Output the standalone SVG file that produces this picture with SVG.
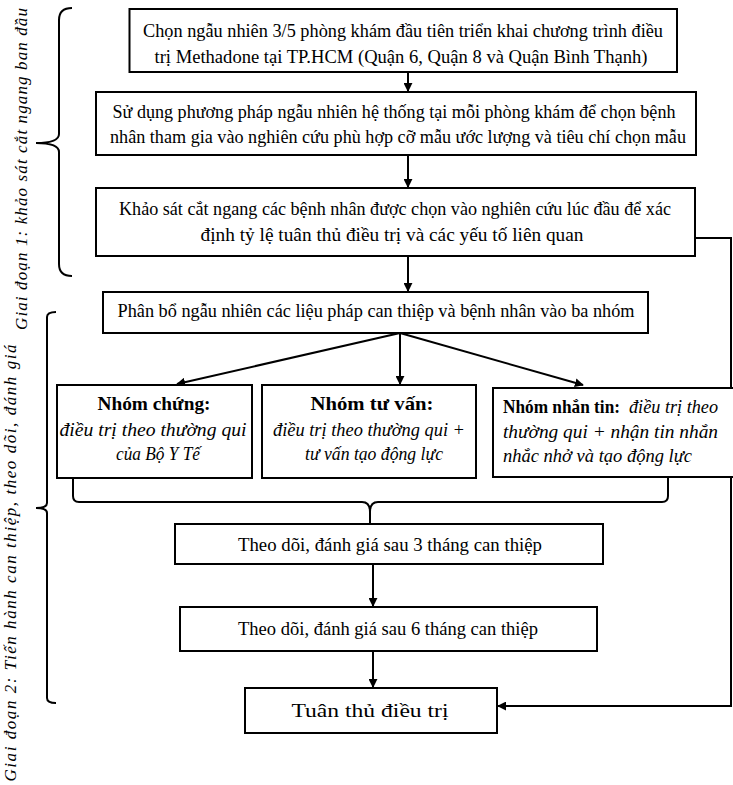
<svg xmlns="http://www.w3.org/2000/svg" width="733" height="785" viewBox="0 0 733 785">
<defs>
<marker id="ah" viewBox="0 0 10 10" refX="9" refY="5" markerWidth="4.5" markerHeight="4.5" orient="auto" markerUnits="strokeWidth">
<path d="M0,0 L10,5 L0,10 z" fill="#000"/>
</marker>
<style>
.box{fill:#fff;stroke:#000;stroke-width:2}
.t{font-family:"Liberation Serif","Times New Roman",serif;font-size:19px;fill:#000}
.m{text-anchor:middle}
.i{font-style:italic}
.b{font-weight:bold}
.c{fill:none;stroke:#000;stroke-width:2}
.br{fill:none;stroke:#000;stroke-width:2}
.side{font-family:"Liberation Serif","Times New Roman",serif;font-size:17px;font-style:italic;fill:#000;text-anchor:middle}
</style>
</defs>
<rect width="733" height="785" fill="#fff"/>

<g id="phase-labels">
<path class="br" d="M72,8 Q59,8 59,20 V134 Q59,143 36,143 Q59,143 59,152 V264 Q59,276 72,276"/>
<text class="side" transform="translate(27,169) rotate(-90)" textLength="322" lengthAdjust="spacing">Giai đoạn 1: khảo sát cắt ngang ban đầu</text>
<path class="br" d="M56,312 Q47,312 47,317 V503 Q47,508 36,508 Q47,508 47,513 V698 Q47,703 56,703"/>
<text class="side" transform="translate(16,563) rotate(-90)" textLength="437" lengthAdjust="spacing">Giai đoạn 2: Tiến hành can thiệp, theo dõi, đánh giá</text>
</g>

<g id="connectors">
<path class="c" d="M408,72 V91" marker-end="url(#ah)"/>
<path class="c" d="M408,155 V187" marker-end="url(#ah)"/>
<path class="c" d="M408,256 V291" marker-end="url(#ah)"/>
<path class="c" d="M400,333 L177,384" marker-end="url(#ah)"/>
<path class="c" d="M400,333 V384" marker-end="url(#ah)"/>
<path class="c" d="M400,333 L583,385" marker-end="url(#ah)"/>
<path class="c" d="M73,478 V496 Q73,502 79,502 H362 Q370,502 370,512 V524"/>
<path class="c" d="M668,477 V496 Q668,502 662,502 H378 Q370,502 370,512"/>
<path class="c" d="M373,564 V606" marker-end="url(#ah)"/>
<path class="c" d="M373,651 V687" marker-end="url(#ah)"/>
<path class="c" d="M695,238 H731 V706 H498" marker-end="url(#ah)"/>
</g>

<g id="n1">
<rect class="box" x="129.5" y="9" width="547.5" height="63"/>
<text class="t m" x="403" y="37" textLength="520" lengthAdjust="spacingAndGlyphs">Chọn ngẫu nhiên 3/5 phòng khám đầu tiên triển khai chương trình điều</text>
<text class="t m" x="401" y="63" textLength="493" lengthAdjust="spacingAndGlyphs">trị Methadone tại TP.HCM (Quận 6, Quận 8 và Quận Bình Thạnh)</text>
</g>

<g id="n2">
<rect class="box" x="96" y="92" width="600" height="63"/>
<text class="t m" x="394" y="118" textLength="563" lengthAdjust="spacingAndGlyphs">Sử dụng phương pháp ngẫu nhiên hệ thống tại mỗi phòng khám để chọn bệnh</text>
<text class="t m" x="398" y="143" textLength="576" lengthAdjust="spacingAndGlyphs">nhân tham gia vào nghiên cứu phù hợp cỡ mẫu ước lượng và tiêu chí chọn mẫu</text>
</g>

<g id="n3">
<rect class="box" x="96" y="188" width="599" height="68"/>
<text class="t m" x="395" y="215" textLength="552" lengthAdjust="spacingAndGlyphs">Khảo sát cắt ngang các bệnh nhân được chọn vào nghiên cứu lúc đầu để xác</text>
<text class="t m" x="392" y="241" textLength="383" lengthAdjust="spacingAndGlyphs">định tỷ lệ tuân thủ điều trị và các yếu tố liên quan</text>
</g>

<g id="n4">
<rect class="box" x="103" y="292" width="545" height="41"/>
<text class="t m" x="376" y="317" textLength="517" lengthAdjust="spacingAndGlyphs">Phân bổ ngẫu nhiên các liệu pháp can thiệp và bệnh nhân vào ba nhóm</text>
</g>

<g id="n5">
<rect class="box" x="57" y="385" width="195" height="93"/>
<text class="t m b" x="154" y="410" textLength="113" lengthAdjust="spacingAndGlyphs">Nhóm chứng:</text>
<text class="t m i" x="153" y="436" textLength="187" lengthAdjust="spacingAndGlyphs">điều trị theo thường qui</text>
<text class="t m i" x="158" y="460" textLength="84" lengthAdjust="spacingAndGlyphs">của Bộ Y Tế</text>
</g>

<g id="n6">
<rect class="box" x="262" y="385" width="214" height="93"/>
<text class="t m b" x="372" y="410" textLength="123" lengthAdjust="spacingAndGlyphs">Nhóm tư vấn:</text>
<text class="t m i" x="369" y="436" textLength="192" lengthAdjust="spacingAndGlyphs">điều trị theo thường qui +</text>
<text class="t m i" x="374" y="460" textLength="138" lengthAdjust="spacingAndGlyphs">tư vấn tạo động lực</text>
</g>

<g id="n7">
<rect class="box" x="493" y="388" width="250" height="89"/>
<text class="t b" x="503" y="413" textLength="117" lengthAdjust="spacingAndGlyphs">Nhóm nhắn tin:</text>
<text class="t i" x="629" y="413" textLength="89" lengthAdjust="spacingAndGlyphs">điều trị theo</text>
<text class="t i" x="503" y="438" textLength="215" lengthAdjust="spacingAndGlyphs">thường qui + nhận tin nhắn</text>
<text class="t i" x="503" y="462" textLength="189" lengthAdjust="spacingAndGlyphs">nhắc nhở và tạo động lực</text>
</g>

<g id="n8">
<rect class="box" x="175" y="524" width="428" height="40"/>
<text class="t m" x="390" y="551" textLength="304" lengthAdjust="spacingAndGlyphs">Theo dõi, đánh giá sau 3 tháng can thiệp</text>
</g>

<g id="n9">
<rect class="box" x="180" y="607" width="417" height="44"/>
<text class="t m" x="388" y="635" textLength="300" lengthAdjust="spacingAndGlyphs">Theo dõi, đánh giá sau 6 tháng can thiệp</text>
</g>

<g id="n10">
<rect class="box" x="245" y="688" width="252" height="45"/>
<text class="t m" x="370" y="717" textLength="157" lengthAdjust="spacingAndGlyphs">Tuân thủ điều trị</text>
</g>
</svg>
